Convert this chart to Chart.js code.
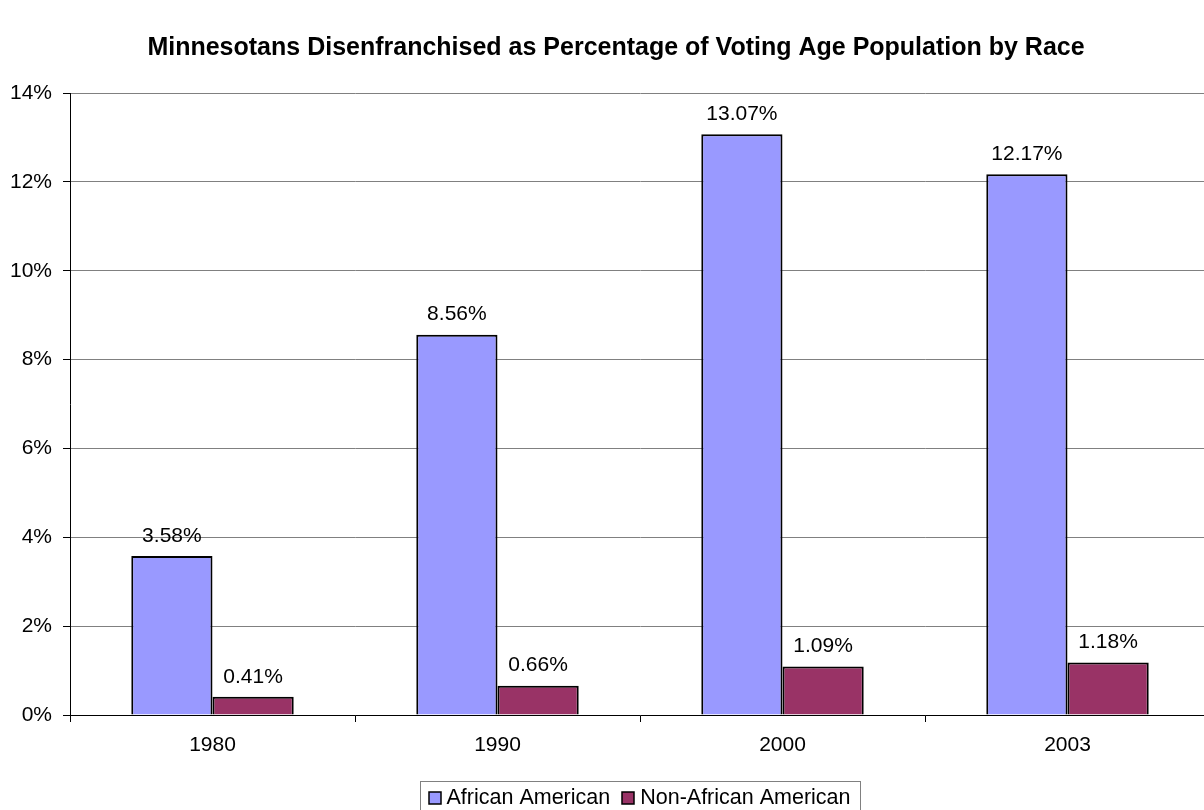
<!DOCTYPE html>
<html>
<head>
<meta charset="utf-8">
<script src="https://cdn.jsdelivr.net/npm/chart.js@4/dist/chart.umd.min.js"></script>
<style>
  html, body { margin: 0; padding: 0; background: #fff; overflow: hidden; }
  #wrap { width: 1232px; height: 810px; }
</style>
</head>
<body>
<div id="wrap"><canvas id="grafica" width="1232" height="810"></canvas></div>
<script>
// Datos (porcentaje de la población en edad de votar)
const anios = ['1980', '1990', '2000', '2003'];
const afroamericanos = [3.58, 8.56, 13.07, 12.17];
const noAfroamericanos = [0.41, 0.66, 1.09, 1.18];
const etiquetasSerie = ['African American', 'Non-African American'];
const titulo = 'Minnesotans Disenfranchised as Percentage of Voting Age Population by Race';

const FUENTE = '"Liberation Sans", Arial, sans-serif';

// Título centrado sobre todo el lienzo (el área de trazado sale por la derecha)
const tituloCentrado = {
  id: 'tituloCentrado',
  afterDraw(chart) {
    const ctx = chart.ctx;
    ctx.save();
    ctx.font = 'bold 25px ' + FUENTE;
    ctx.fillStyle = '#000';
    ctx.textAlign = 'center';
    ctx.textBaseline = 'middle';
    ctx.fillText(titulo, chart.width / 2, 48);
    ctx.restore();
  }
};

// Etiquetas de valor encima de cada barra
const etiquetasValor = {
  id: 'etiquetasValor',
  afterDatasetsDraw(chart) {
    const ctx = chart.ctx;
    ctx.save();
    ctx.font = '21px ' + FUENTE;
    ctx.fillStyle = '#000';
    ctx.textAlign = 'center';
    ctx.textBaseline = 'middle';
    chart.data.datasets.forEach((ds, i) => {
      chart.getDatasetMeta(i).data.forEach((bar, j) => {
        ctx.fillText(ds.data[j].toFixed(2) + '%', bar.x, bar.y - 20);
      });
    });
    ctx.restore();
  }
};

// Leyenda con recuadro, estilo Excel
const leyenda = {
  id: 'leyendaRecuadro',
  afterDraw(chart) {
    const ctx = chart.ctx;
    ctx.save();
    ctx.font = '21.5px ' + FUENTE;
    const marca = 12, sep = 6, entre = 12, relleno = 9;
    const anchos = chart.data.datasets.map(ds => ctx.measureText(ds.label).width);
    let total = 0;
    anchos.forEach((w, i) => { total += marca + sep + w + (i ? entre : 0); });
    const centro = 639.5, yTexto = 798;
    let x = centro - total / 2;
    ctx.strokeStyle = '#808080';
    ctx.lineWidth = 1;
    ctx.strokeRect(Math.round(x - relleno) + 0.5, 781.5, Math.round(total + 2 * relleno), 40);
    ctx.textBaseline = 'middle';
    ctx.textAlign = 'left';
    chart.data.datasets.forEach((ds, i) => {
      ctx.fillStyle = ds.backgroundColor;
      ctx.fillRect(Math.round(x), yTexto - 6, marca, marca);
      ctx.strokeStyle = '#000';
      ctx.lineWidth = 1.5;
      ctx.strokeRect(Math.round(x), yTexto - 6, marca, marca);
      ctx.fillStyle = '#000';
      ctx.fillText(ds.label, x + marca + sep, yTexto);
      x += marca + sep + anchos[i] + entre;
    });
    ctx.restore();
  }
};

new Chart(document.getElementById('grafica'), {
  type: 'bar',
  data: {
    labels: anios,
    datasets: [
      {
        label: etiquetasSerie[0],
        data: afroamericanos,
        backgroundColor: '#9999FF',
        borderColor: '#000',
        borderWidth: 2,
        categoryPercentage: 0.57,
        barPercentage: 1.0
      },
      {
        label: etiquetasSerie[1],
        data: noAfroamericanos,
        backgroundColor: '#993366',
        borderColor: '#000',
        borderWidth: 2,
        categoryPercentage: 0.57,
        barPercentage: 1.0
      }
    ]
  },
  options: {
    responsive: false,
    animation: false,
    devicePixelRatio: 1,
    layout: { padding: { left: 0, right: 22, top: 93, bottom: 0 } },
    plugins: {
      legend: { display: false },
      tooltip: { enabled: false },
      title: { display: false }
    },
    scales: {
      x: {
        grid: { offset: true, drawOnChartArea: false, tickLength: 7, color: '#000' },
        border: { color: '#000', width: 1 },
        ticks: { color: '#000', font: { family: FUENTE, size: 21 }, padding: 11 },
        afterFit(scale) { scale.height = 95; }
      },
      y: {
        min: 0,
        max: 14,
        ticks: {
          stepSize: 2,
          color: '#000',
          font: { family: FUENTE, size: 21 },
          padding: 11,
          callback: v => v + '%'
        },
        grid: { color: '#808080', tickColor: '#000', tickLength: 7 },
        border: { color: '#000', width: 1 },
        afterFit(scale) { scale.width = 70; }
      }
    }
  },
  plugins: [etiquetasValor, leyenda, tituloCentrado]
});
</script>
</body>
</html>
